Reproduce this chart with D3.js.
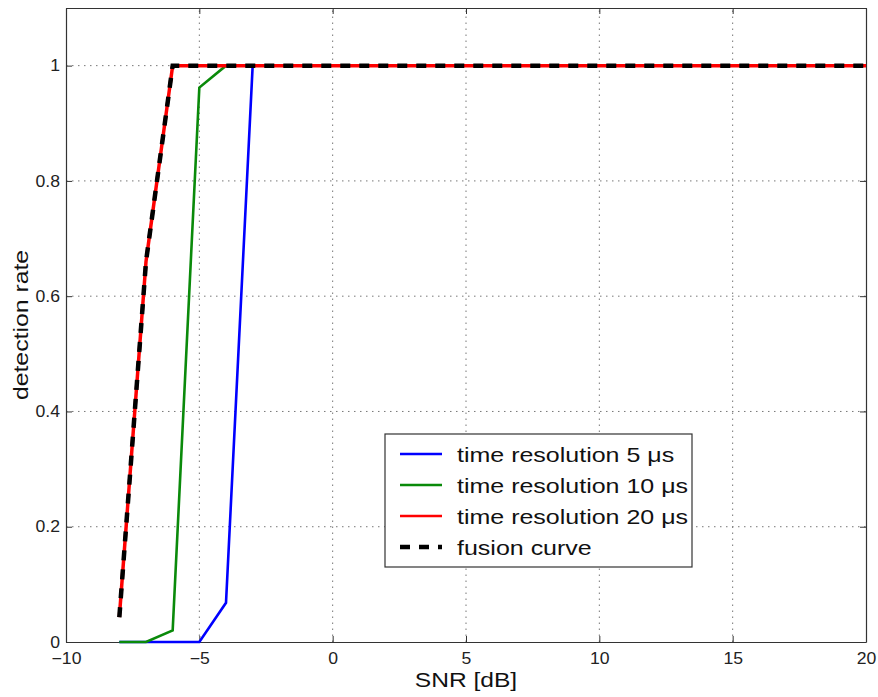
<!DOCTYPE html>
<html>
  <head>
  <title>Detection rate vs SNR</title>
  </head>
  <body>

  <svg id="svg" width="878" height="697"></svg>

  <script src="https://d3js.org/d3.v7.min.js"></script>
  <script>
        const snr = [-8, -7, -6, -5, -4, -3, -2, -1, 0, 1, 2, 3, 4, 5, 6, 7, 8, 9, 10, 11, 12, 13, 14, 15, 16, 17, 18, 19, 20]
        const res5 = [0, 0, 0, 0, 0.068, 1, 1, 1, 1, 1, 1, 1, 1, 1, 1, 1, 1, 1, 1, 1, 1, 1, 1, 1, 1, 1, 1, 1, 1]
        const res10 = [0, 0, 0.02, 0.962, 1, 1, 1, 1, 1, 1, 1, 1, 1, 1, 1, 1, 1, 1, 1, 1, 1, 1, 1, 1, 1, 1, 1, 1, 1]
        const res20 = [0.043, 0.66, 1, 1, 1, 1, 1, 1, 1, 1, 1, 1, 1, 1, 1, 1, 1, 1, 1, 1, 1, 1, 1, 1, 1, 1, 1, 1, 1]
        const fusion = [0.043, 0.66, 1, 1, 1, 1, 1, 1, 1, 1, 1, 1, 1, 1, 1, 1, 1, 1, 1, 1, 1, 1, 1, 1, 1, 1, 1, 1, 1]
        const xTicks = [-10, -5, 0, 5, 10, 15, 20]
        const yTicks = [0, 0.2, 0.4, 0.6, 0.8, 1]
        const legendLabels = ['time resolution 5 \u03bcs', 'time resolution 10 \u03bcs', 'time resolution 20 \u03bcs', 'fusion curve']

        const margin = {left: 66, right: 12, top: 8, bottom: 55}
        const W = 878, H = 697
        const svg = d3.select('#svg')
        const font = '"Liberation Sans", Arial, sans-serif'

        // the original text is a bit wider than Liberation Sans, stretch it
        function stretch(sel, k) {
            sel.each(function () {
                const len = this.getComputedTextLength()
                d3.select(this).attr('textLength', len * k).attr('lengthAdjust', 'spacingAndGlyphs')
            })
        }

        const xscale = d3.scaleLinear().domain([-10, 20]).range([margin.left, W - margin.right])
        const yscale = d3.scaleLinear().domain([0, 1.1]).range([H - margin.bottom, margin.top])
        const x0 = xscale.range()[0], x1 = xscale.range()[1]
        const y0 = yscale.range()[0], y1 = yscale.range()[1]

        svg.append('rect').attr('x', 0).attr('y', 0).attr('width', W).attr('height', H).attr('fill', 'white')

        // grid
        const grid = svg.append('g').attr('stroke', '#777').attr('stroke-width', 1).attr('stroke-dasharray', '1.5,4.5')
        xTicks.slice(1, -1).forEach(t => {
            grid.append('line').attr('x1', xscale(t)).attr('x2', xscale(t)).attr('y1', y0).attr('y2', y1)
        })
        yTicks.slice(1).forEach(t => {
            grid.append('line').attr('x1', x0).attr('x2', x1).attr('y1', yscale(t)).attr('y2', yscale(t))
        })

        // axes (inward ticks, box)
        svg.append('g').attr('transform', `translate(0,${y0})`)
            .call(d3.axisBottom(xscale).tickValues(xTicks).tickSizeInner(-6).tickSizeOuter(0).tickPadding(11)
                .tickFormat(d => d < 0 ? '\u2212' + Math.abs(d) : d))
        svg.append('g').attr('transform', `translate(0,${y1})`)
            .call(d3.axisTop(xscale).tickValues(xTicks).tickSizeInner(-6).tickSizeOuter(0).tickFormat(''))
        svg.append('g').attr('transform', `translate(${x0},0)`)
            .call(d3.axisLeft(yscale).tickValues(yTicks).tickSizeInner(-6).tickSizeOuter(0).tickPadding(6)
                .tickFormat(d => d === 0 || d === 1 ? d : d3.format('.1f')(d)))
        svg.append('g').attr('transform', `translate(${x1},0)`)
            .call(d3.axisRight(yscale).tickValues(yTicks).tickSizeInner(-6).tickSizeOuter(0).tickFormat(''))
        svg.selectAll('.domain').attr('stroke', '#333').attr('stroke-width', 1.2)
        svg.selectAll('.tick line').attr('stroke', '#333')
        svg.selectAll('.tick text').attr('font-family', font).attr('font-size', 16).attr('fill', '#222')
            .call(stretch, 1.1)

        // lines
        const linegen = ys => d3.line()
            .x((d, i) => xscale(snr[i]))
            .y((d, i) => yscale(ys[i]))
            .curve(d3.curveLinear)(snr)
        const series = [
            {vals: res5, color: '#0000ff', width: 2.6, dash: null},
            {vals: res10, color: '#0a8a0a', width: 2.6, dash: null},
            {vals: res20, color: '#ff0000', width: 3.5, dash: null},
            {vals: fusion, color: '#000000', width: 4.5, dash: '10,9'}
        ]
        series.forEach(s => {
            svg.append('path')
                .attr('d', linegen(s.vals))
                .attr('stroke', s.color)
                .attr('stroke-width', s.width)
                .attr('stroke-dasharray', s.dash)
                .attr('fill', 'none')
        })

        // axis labels
        svg.append('text').attr('x', xscale(5)).attr('y', 687).attr('text-anchor', 'middle')
            .attr('font-family', font).attr('font-size', 21).attr('fill', '#111').text('SNR [dB]')
            .call(stretch, 1.17)
        svg.append('text').attr('transform', `translate(28,${yscale(0.55)}) rotate(-90)`).attr('text-anchor', 'middle')
            .attr('font-family', font).attr('font-size', 21).attr('fill', '#111').text('detection rate')
            .call(stretch, 1.18)

        // legend
        const lg = svg.append('g').attr('transform', 'translate(385,434)')
        lg.append('rect').attr('width', 307).attr('height', 133).attr('fill', 'white').attr('stroke', '#333').attr('stroke-width', 1.2)
        legendLabels.forEach((lab, i) => {
            const yy = 20 + i * 31
            const s = series[i]
            lg.append('line').attr('x1', 15).attr('x2', 57).attr('y1', yy).attr('y2', yy)
                .attr('stroke', s.color).attr('stroke-width', i === 3 ? 4.5 : 2.6)
                .attr('stroke-dasharray', i === 3 ? '10,9' : null)
            lg.append('text').attr('x', 72).attr('y', yy + 8).attr('font-family', font).attr('font-size', 21)
                .attr('fill', '#111').text(lab)
                .call(stretch, 1.19)
        })
  </script>
  <style>
    body, html { margin: 0; padding: 0; }
  </style>
  </body>
</html>
